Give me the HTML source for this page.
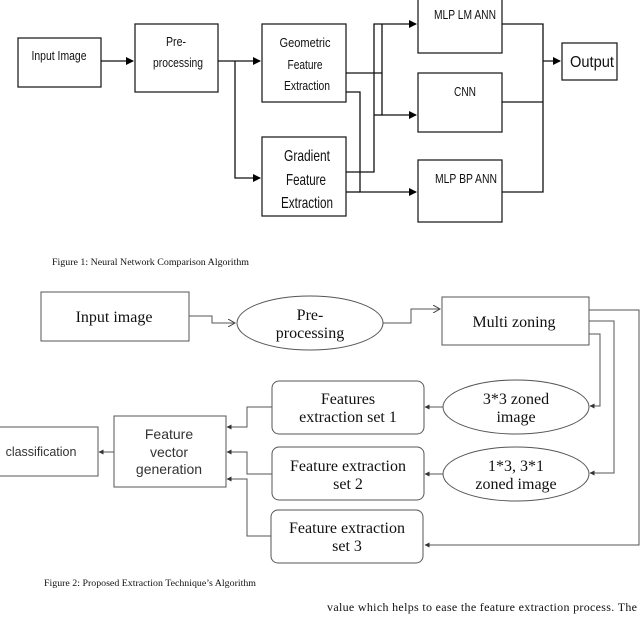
<!DOCTYPE html>
<html><head><meta charset="utf-8"><style>
html,body{margin:0;padding:0;background:#fff;width:640px;height:618px;overflow:hidden}
svg{display:block}
.s{font-family:"Liberation Sans Narrow","Liberation Sans",sans-serif;fill:#111}
.r{font-family:"Liberation Serif",serif;fill:#111}
</style></head><body>
<svg width="640" height="618" viewBox="0 0 640 618" xmlns="http://www.w3.org/2000/svg">
<defs>
<marker id="a" markerWidth="8" markerHeight="8" refX="7" refY="4" orient="auto" markerUnits="userSpaceOnUse"><path d="M0,0 L8,4 L0,8 z" fill="#000"/></marker>
<marker id="b" markerWidth="5" markerHeight="5" refX="4.5" refY="2.5" orient="auto" markerUnits="userSpaceOnUse"><path d="M0,0 L5,2.5 L0,5 z" fill="#333"/></marker>
<marker id="o" markerWidth="8" markerHeight="8" refX="7" refY="4" orient="auto" markerUnits="userSpaceOnUse"><path d="M0,0 L7,4 L0,8" fill="none" stroke="#444"/></marker>
</defs>
<!-- Figure 1 -->
<g fill="#fff" stroke="#222" stroke-width="1.3">
<rect x="18" y="38" width="83" height="49"/>
<rect x="135" y="24" width="83" height="68"/>
<rect x="262" y="24" width="84" height="78"/>
<rect x="262" y="137" width="84" height="79"/>
<rect x="418" y="-2" width="84" height="55"/>
<rect x="418" y="73" width="84" height="59"/>
<rect x="418" y="160" width="84" height="62"/>
<rect x="562" y="43" width="55" height="37"/>
</g>
<g fill="none" stroke="#111" stroke-width="1.3">
<line x1="101" y1="61" x2="133" y2="61" marker-end="url(#a)"/>
<line x1="218" y1="61" x2="260" y2="61" marker-end="url(#a)"/>
<polyline points="235,61 235,178 260,178" marker-end="url(#a)"/>
<polyline points="346,73 382,73"/>
<polyline points="346,92 360,92 360,192 416,192" marker-end="url(#a)"/>
<polyline points="346,172 374,172 374,24 416,24" marker-end="url(#a)"/>
<polyline points="382,24 382,115 416,115" marker-end="url(#a)"/>
<line x1="374" y1="115" x2="382" y2="115"/>
<line x1="346" y1="192" x2="360" y2="192"/>
<polyline points="502,24 543,24 543,192 502,192"/>
<line x1="502" y1="102" x2="543" y2="102"/>
<line x1="543" y1="61" x2="560" y2="61" marker-end="url(#a)"/>
</g>
<g class="s" font-size="13" text-anchor="middle">
<text x="59" y="60" textLength="55" lengthAdjust="spacingAndGlyphs">Input Image</text>
<text x="176" y="46" textLength="20" lengthAdjust="spacingAndGlyphs">Pre-</text>
<text x="178" y="67" textLength="50" lengthAdjust="spacingAndGlyphs">processing</text>
<text x="305" y="47" textLength="51" lengthAdjust="spacingAndGlyphs">Geometric</text>
<text x="305" y="69" textLength="35" lengthAdjust="spacingAndGlyphs">Feature</text>
<text x="307" y="90" textLength="46" lengthAdjust="spacingAndGlyphs">Extraction</text>
<text x="307" y="161" font-size="16" textLength="46" lengthAdjust="spacingAndGlyphs">Gradient</text>
<text x="306" y="185" font-size="16" textLength="40" lengthAdjust="spacingAndGlyphs">Feature</text>
<text x="307" y="208" font-size="16" textLength="52" lengthAdjust="spacingAndGlyphs">Extraction</text>
<text x="465" y="19" textLength="62" lengthAdjust="spacingAndGlyphs">MLP LM ANN</text>
<text x="465" y="96" textLength="22" lengthAdjust="spacingAndGlyphs">CNN</text>
<text x="466" y="183" textLength="62" lengthAdjust="spacingAndGlyphs">MLP BP ANN</text>
<text x="592" y="67" font-size="16" textLength="44" lengthAdjust="spacingAndGlyphs">Output</text>
</g>
<text class="r" x="52" y="265" font-size="9.5" textLength="197" lengthAdjust="spacingAndGlyphs">Figure 1: Neural Network Comparison Algorithm</text>

<!-- Figure 2 -->
<g fill="#fff" stroke="#555" stroke-width="1">
<rect x="41" y="292" width="148" height="49"/>
<ellipse cx="310" cy="323" rx="73" ry="27"/>
<rect x="442" y="297" width="147" height="48"/>
<ellipse cx="516" cy="407" rx="73" ry="27"/>
<ellipse cx="516" cy="474" rx="73" ry="27"/>
<rect x="272" y="381" width="152" height="53" rx="7"/>
<rect x="272" y="447" width="152" height="53" rx="7"/>
<rect x="271" y="510" width="152" height="53" rx="7"/>
<rect x="114" y="416" width="112" height="71"/>
<rect x="-2" y="427" width="100" height="49"/>
</g>
<g fill="none" stroke="#555" stroke-width="1">
<polyline points="189,316 212,316 212,323 235,323" marker-end="url(#o)"/>
<polyline points="383,323 411,323 411,309 440,309" marker-end="url(#o)"/>
<polyline points="589,310 639,310 639,545 425,545" marker-end="url(#b)"/>
<polyline points="589,321 614,321 614,473 590,473" marker-end="url(#b)"/>
<polyline points="589,334 600,334 600,406 590,406" marker-end="url(#b)"/>
<line x1="443" y1="407" x2="425" y2="407" marker-end="url(#b)"/>
<line x1="443" y1="474" x2="425" y2="474" marker-end="url(#b)"/>
<polyline points="272,407 247,407 247,427 227,427" marker-end="url(#b)"/>
<polyline points="272,474 247,474 247,452 227,452" marker-end="url(#b)"/>
<polyline points="271,536 247,536 247,479 227,479" marker-end="url(#b)"/>
<line x1="114" y1="452" x2="99" y2="452" marker-end="url(#b)"/>
</g>
<g class="r" font-size="16" text-anchor="middle">
<text x="114" y="322">Input image</text>
<text x="310" y="320">Pre-</text>
<text x="310" y="338">processing</text>
<text x="514" y="327">Multi zoning</text>
<text x="516" y="404">3*3 zoned</text>
<text x="516" y="422">image</text>
<text x="516" y="471">1*3, 3*1</text>
<text x="516" y="489">zoned image</text>
<text x="348" y="404">Features</text>
<text x="348" y="422">extraction set 1</text>
<text x="348" y="471">Feature extraction</text>
<text x="348" y="489">set 2</text>
<text x="347" y="533">Feature extraction</text>
<text x="347" y="551">set 3</text>
</g>
<g font-family="'Liberation Sans',sans-serif" fill="#333" font-size="14" text-anchor="middle">
<text x="169" y="439">Feature</text>
<text x="169" y="457">vector</text>
<text x="169" y="474">generation</text>
<text x="41" y="456" font-size="12.5">classification</text>
</g>
<text class="r" x="44" y="586" font-size="9.5" textLength="212" lengthAdjust="spacingAndGlyphs">Figure 2: Proposed Extraction Technique’s Algorithm</text>
<text class="r" x="327" y="611" font-size="12" textLength="310" lengthAdjust="spacing">value which helps to ease the feature extraction process. The</text>
</svg>
</body></html>
